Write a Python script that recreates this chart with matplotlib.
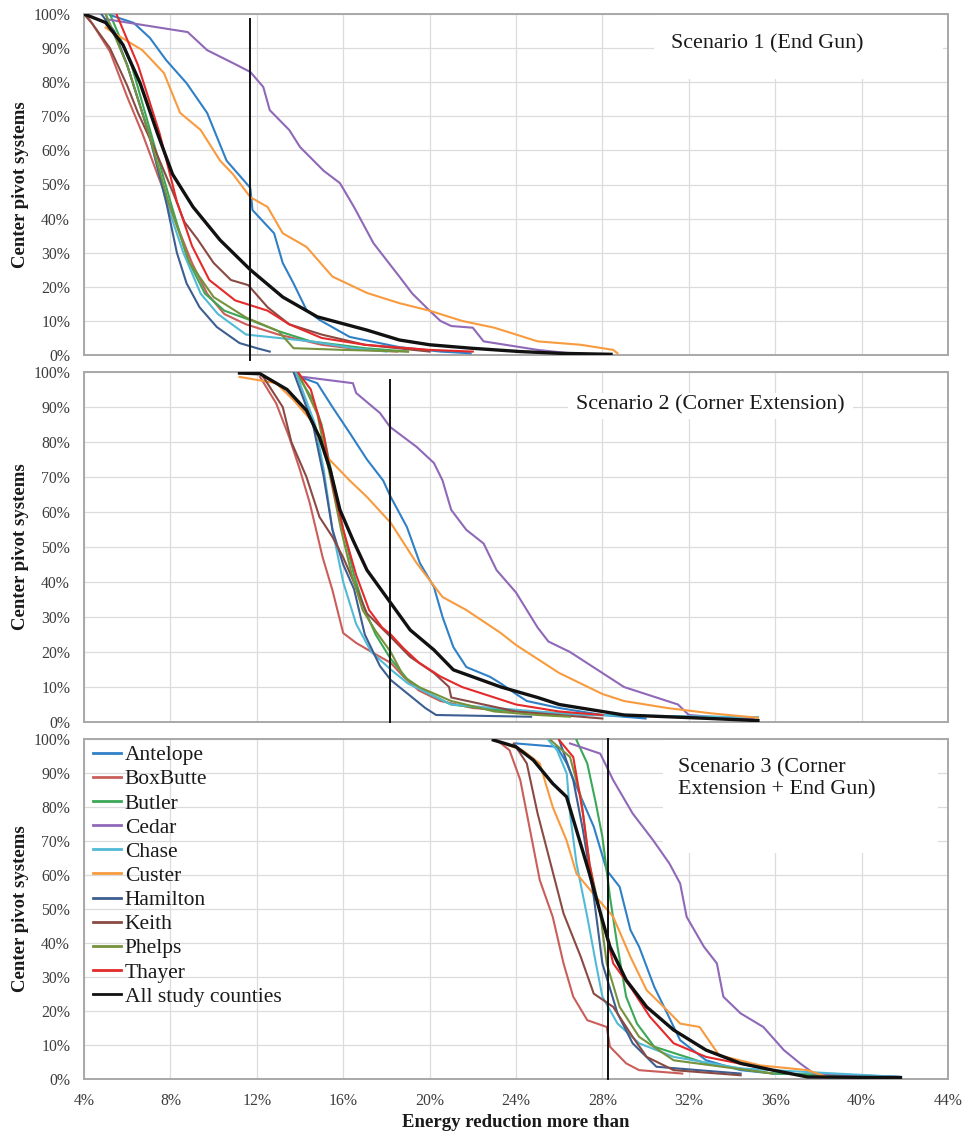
import matplotlib
matplotlib.use("Agg")
import matplotlib.pyplot as plt
from matplotlib.patches import Rectangle
from matplotlib.ticker import FixedLocator

# ---------------------------------------------------------------
# Exceedance curves: (energy reduction %, share of center pivots %)
# ---------------------------------------------------------------
counties = ["Antelope", "BoxButte", "Butler", "Cedar", "Chase", "Custer",
            "Hamilton", "Keith", "Phelps", "Thayer", "All study counties"]
colors = ["#2f80c6", "#c95e5a", "#3aa856", "#8f68b8", "#52bad6", "#f89b3f",
          "#3d5e90", "#8a4a43", "#77923c", "#e42a2a", "#111111"]

# Scenario 1 (End Gun)
s1_antelope = [(5.2, 99.7), (6.3, 97.4), (7.05, 93), (7.8, 86.5), (8.75, 79.7), (9.7, 71),
               (10.6, 57), (11.7, 49), (11.8, 42.5), (12.8, 35.7), (13.2, 27), (13.7, 21),
               (14.3, 13.2), (14.9, 10.3), (16.3, 5.3), (18.6, 2.3), (20.5, 1), (21.9, 0.5)]
s1_boxbutte = [(4.0, 100), (4.3, 98), (5.2, 89), (6.0, 75.7), (6.7, 65), (7.4, 53), (7.85, 45.5),
               (8.45, 35.7), (9.0, 27), (9.7, 18), (10.5, 12), (11.5, 9), (13, 6), (15, 3),
               (17, 1.5), (18.5, 1)]
s1_butler = [(5.2, 100), (6.2, 85), (7.1, 65), (8.0, 45), (8.8, 28), (9.6, 18), (10.5, 13),
             (11.8, 10), (13, 7), (14.5, 4), (17, 2), (19, 1)]
s1_cedar = [(5.0, 98.5), (8.8, 94.7), (9.7, 89.4), (10.9, 85.6), (11.7, 83), (12.3, 78.6),
            (12.6, 71.8), (13.5, 66), (14, 61), (15.1, 54), (15.85, 50.4), (16.5, 43.4),
            (17.4, 32.8), (18.6, 23), (19.2, 18), (20, 13), (20.5, 10), (21, 8.5), (22, 8),
            (22.5, 4), (23.5, 3), (25, 1.5), (26.5, 0.5)]
s1_chase = [(5.0, 100), (6.0, 85), (7.0, 65), (7.8, 45), (8.6, 30), (9.4, 18), (10.2, 12),
            (11.5, 6), (13, 5), (14.5, 4), (16.5, 2), (18, 1)]
s1_custer = [(5.0, 96), (5.5, 94), (6.7, 89.4), (7.7, 82.7), (8.45, 71), (9.4, 66), (10.3, 57),
             (10.9, 53), (11.7, 46.3), (12.5, 43.4), (13.2, 35.7), (14.3, 31.7), (15.5, 23),
             (17.1, 18.2), (18.6, 15.2), (20, 13), (21.5, 10), (23, 8), (24, 6), (25, 4),
             (27, 3), (28.5, 1.5), (28.7, 0.5)]
s1_hamilton = [(4.8, 100), (5.4, 95), (6.0, 85), (7.0, 65), (7.8, 45), (8.3, 30), (8.75, 21),
               (9.35, 14), (10.15, 8.2), (11.2, 3.5), (12.0, 2), (12.6, 1)]
s1_keith = [(4.0, 100), (4.4, 97), (5.2, 90), (6.0, 79), (6.5, 71), (7.3, 60), (8.1, 48),
            (8.65, 39), (9.25, 34), (10.0, 27), (10.8, 22), (11.6, 20.5), (12.5, 14),
            (13.5, 9), (15, 6), (17, 3), (20, 1)]
s1_phelps = [(5.0, 100), (6.0, 85), (7.0, 65), (7.9, 45), (8.9, 27), (10, 17), (11.5, 11),
             (13, 7), (13.7, 2), (16, 1.5), (19, 1)]
s1_thayer = [(5.5, 100), (6.5, 85), (7.5, 65), (8.3, 45), (9.0, 32), (9.8, 22), (11, 16),
             (12.5, 13), (13.5, 9), (15, 5), (17, 3), (20, 1.5), (22, 1)]
s1_all = [(4.0, 100), (5.0, 97.5), (5.8, 91), (6.6, 79.7), (7.4, 65), (8.1, 53), (9.05, 43.4),
          (10.3, 33.7), (11.7, 25), (13.2, 17), (14.8, 11.2), (17.1, 7.3), (18.6, 4.4),
          (20, 3), (21.9, 2), (24.2, 1), (26, 0.5), (28.4, 0.2)]

# Scenario 2 (Corner Extension)
s2_antelope = [(14, 98.6), (14.8, 96.8), (15.5, 90), (16.3, 82.6), (17.1, 75), (17.85, 69),
               (18.2, 64.3), (18.95, 55.7), (19.55, 45.4), (20.2, 38.6), (20.6, 30), (21.1, 21.4),
               (21.7, 15.7), (22.8, 12.9), (23.3, 11), (24, 8), (24.5, 6), (26, 4), (28, 2), (30, 1)]
s2_boxbutte = [(12.15, 98.6), (12.9, 91), (13.5, 81.4), (14, 72), (14.45, 62.6), (15.05, 47),
               (15.5, 37.7), (16, 25.4), (16.6, 22.6), (17.4, 19.7), (18.2, 16.9), (18.8, 12.9),
               (19.5, 9), (20.5, 6), (22, 4), (24, 3), (26, 2)]
s2_butler = [(13.8, 100), (14.6, 92), (15, 85), (15.5, 70), (16, 55), (16.5, 42), (17, 32),
             (17.5, 25), (18.2, 18), (19, 12), (20, 8), (21, 5), (23, 3.5), (26, 2.5), (28, 2)]
s2_cedar = [(14.15, 98.6), (16.45, 96.8), (16.6, 94), (17.7, 88.3), (18.17, 84.3), (19.4, 78.6),
            (20.2, 74), (20.6, 69), (21, 60.6), (21.7, 54.9), (22.5, 51), (23.1, 43.4), (24, 37),
            (24.5, 32), (25, 27), (25.5, 23), (26.5, 20), (27.5, 16), (28.5, 12), (29, 10),
            (30.5, 7), (31.5, 5), (32, 2), (33, 1.5), (35, 1)]
s2_chase = [(13.8, 100), (14.7, 85), (15.1, 72), (15.5, 55), (16, 40), (16.6, 28), (17.3, 20),
            (18.2, 15), (19, 11), (20, 8), (21, 5), (23, 4), (25, 3), (27, 2), (35.2, 1.4)]
s2_custer = [(11.2, 98.6), (12.9, 96.8), (13.7, 92), (14.5, 86.3), (15.25, 75.7), (16.3, 69),
             (17.1, 64.3), (18.2, 56.9), (19.4, 45.4), (20.6, 35.7), (21.7, 32), (23.3, 25.4),
             (24, 22), (25, 18), (26, 14), (27, 11), (28, 8), (29, 6), (31, 4), (33, 2.5),
             (35.2, 1.2)]
s2_hamilton = [(13.7, 100), (14.6, 85), (15.1, 70), (15.5, 55), (16, 45), (16.5, 38), (17, 25),
               (17.7, 16), (18.2, 12), (19, 8), (19.8, 4), (20.3, 2), (24.7, 1.5)]
s2_keith = [(12.3, 98.6), (13.2, 90), (13.6, 80), (14.3, 70), (14.9, 58.6), (15.5, 52.9),
            (16, 47), (16.45, 40.6), (17.1, 31), (18.2, 24.3), (19.1, 18.6), (20.2, 14),
            (20.9, 10), (21, 7), (22.5, 5), (24, 3), (26, 2), (28, 1)]
s2_phelps = [(13.9, 100), (14.8, 88), (15.4, 70), (15.9, 55), (16.4, 42), (16.9, 32), (17.5, 26),
             (18.2, 20), (18.8, 13), (19.5, 10), (21, 6), (23, 3), (25, 2), (26.5, 1.5)]
s2_thayer = [(13.9, 100), (14.5, 95), (15.1, 82), (15.5, 68), (16, 55), (16.6, 42), (17.2, 32),
             (17.8, 27), (18.2, 25), (18.8, 21), (19.5, 17), (20.5, 13), (21.5, 10), (22.5, 8),
             (24, 5), (26, 3), (28, 2)]
s2_all = [(11.2, 99.7), (12.15, 99.5), (13.4, 95), (14.3, 89), (14.9, 81.4), (15.4, 72),
          (15.85, 60.6), (16.45, 52), (17.1, 43.4), (18.2, 34), (19.1, 26.3), (20.2, 20.6),
          (21.1, 14.9), (22, 12.9), (23.3, 10), (25, 7), (26, 5), (27.5, 3.5), (29, 2),
          (31, 1.5), (33, 1), (35.2, 0.4)]

# Scenario 3 (Corner Extension + End Gun)
s3_antelope = [(24, 98.7), (25.9, 97.7), (26.35, 92.8), (27, 83), (27.6, 74.2), (28.2, 61.4),
               (28.8, 56.5), (29.3, 43.8), (29.7, 38.9), (30.4, 27.1), (31, 19.3), (31.6, 11.4),
               (32.8, 5.5), (34.4, 2.6), (35.9, 1.6), (41.8, 0.6)]
s3_boxbutte = [(23.1, 99.7), (23.7, 96.7), (24.2, 87.9), (24.65, 73.2), (25.1, 58.5),
               (25.7, 47.7), (26.2, 34), (26.65, 24.2), (27.3, 17.3), (28.2, 15.3), (28.35, 9.5),
               (29.1, 4.6), (29.7, 2.6), (31.7, 1.6)]
s3_butler = [(26.8, 99.7), (27.3, 92.8), (27.7, 81), (28, 71.2), (28.35, 53.6), (28.7, 38.9),
             (29.1, 24.2), (29.6, 16.3), (30.4, 9.5), (32.8, 4.6), (35.9, 1.6), (41.8, 0.6)]
s3_cedar = [(26.5, 98.7), (27.9, 95.7), (28.5, 87.9), (29.4, 78.1), (30.35, 70.2), (31.1, 63.4),
            (31.6, 57.5), (31.9, 47.7), (32.7, 38.9), (33.3, 34), (33.6, 24.2), (34.4, 19.3),
            (35.45, 15.3), (36.4, 8.5), (37.15, 4.6), (37.8, 1.6), (41.8, 0.6)]
s3_chase = [(25.5, 99.7), (25.9, 96.7), (26.35, 89.8), (26.5, 78.1), (26.8, 63.4), (27.3, 47.7),
            (27.7, 34), (28, 24.2), (28.7, 16.3), (29.7, 10.5), (31.3, 6.5), (34.4, 3.1),
            (41.8, 0.6)]
s3_custer = [(22.95, 99.7), (24.3, 96.7), (25.1, 92.8), (25.7, 80), (26.34, 70.2), (26.8, 60.4),
             (27.7, 53.6), (28.5, 47.7), (29.3, 35.9), (30.05, 26.1), (31, 20.2), (31.6, 16.3),
             (32.5, 15.3), (33.4, 7), (35.3, 4), (37.5, 2.6), (38.4, 0.6)]
s3_hamilton = [(26, 99.7), (26.65, 87.9), (27.1, 73.2), (27.6, 53.6), (28, 34), (28.7, 19.3),
               (29.4, 10.5), (30.5, 3.6), (34.4, 1.6)]
s3_keith = [(23.9, 98.7), (24.5, 92.8), (25, 78.1), (25.6, 63.4), (26.2, 48.7), (27, 35.9),
            (27.6, 25.1), (28.5, 21.2), (29.4, 12.4), (30.05, 6.5), (31.3, 2.6), (34.4, 1.1)]
s3_phelps = [(25.6, 99.7), (26.5, 94.7), (27, 83), (27.4, 63.4), (27.9, 48.7), (28.2, 34),
             (28.8, 21.2), (29.7, 12.4), (31.3, 5.5), (35.9, 1.6)]
s3_thayer = [(26, 99.7), (26.65, 94.7), (27.1, 78.1), (27.4, 63.4), (27.7, 53.6), (28.2, 41.8),
             (28.5, 34), (29.4, 26.1), (30.2, 18.3), (31.3, 10.5), (32.8, 6.5), (35.9, 2.6)]
s3_all = [(22.95, 99.7), (24, 97.7), (24.8, 93.8), (25.7, 86.9), (26.34, 83), (26.8, 73.2),
          (27.4, 60.4), (28, 46.7), (28.35, 38.9), (29.1, 29.1), (30.05, 21.2), (31.3, 14.4),
          (32.8, 8.5), (34.4, 4.6), (35.9, 2.6), (37.5, 0.6), (41.8, 0.4)]

# Mean energy reduction of all study counties per scenario (%)
mean_reduction = [11.7, 18.17, 28.26]

scenario_titles = ["Scenario 1 (End Gun)",
                   "Scenario 2 (Corner Extension)",
                   "Scenario 3 (Corner\nExtension + End Gun)"]

x_ticks = [4, 8, 12, 16, 20, 24, 28, 32, 36, 40, 44]
x_tick_labels = ["4%", "8%", "12%", "16%", "20%", "24%", "28%", "32%", "36%", "40%", "44%"]
y_ticks = [0, 10, 20, 30, 40, 50, 60, 70, 80, 90, 100]
y_tick_labels = ["0%", "10%", "20%", "30%", "40%", "50%", "60%", "70%", "80%", "90%", "100%"]

scenarios = [
    [s1_antelope, s1_boxbutte, s1_butler, s1_cedar, s1_chase, s1_custer,
     s1_hamilton, s1_keith, s1_phelps, s1_thayer, s1_all],
    [s2_antelope, s2_boxbutte, s2_butler, s2_cedar, s2_chase, s2_custer,
     s2_hamilton, s2_keith, s2_phelps, s2_thayer, s2_all],
    [s3_antelope, s3_boxbutte, s3_butler, s3_cedar, s3_chase, s3_custer,
     s3_hamilton, s3_keith, s3_phelps, s3_thayer, s3_all],
]

# ---------------------------------------------------------------
W, H = 971, 1135
plt.rcParams["font.family"] = ["Liberation Serif", "DejaVu Serif"]
fig = plt.figure(figsize=(W / 100, H / 100), dpi=100)
fig.patch.set_facecolor("white")


def axes_px(left, top, right, bottom):
    return fig.add_axes([left / W, 1 - bottom / H, (right - left) / W, (bottom - top) / H])


panel_px = [(84, 14, 948, 355), (84, 372, 948, 722), (84, 739, 948, 1079)]
# white boxes behind the scenario captions (axes fraction: x0, y0, w, h)
caption_boxes = [(0.660, 0.808, 0.334, 0.190),
                 (0.560, 0.865, 0.330, 0.075),
                 (0.670, 0.665, 0.318, 0.333)]
caption_pos = [(0.791, 0.912, "center"),
               (0.725, 0.905, "center"),
               (0.6875, 0.884, "left")]
mean_span = [(-0.015, 0.985), (0.0, 0.977), (0.0, 1.0)]

grid_col = "#dcdcdc"
spine_col = "#a8a8a8"
tick_col = "#3c3c3c"

for i, (series_list, px) in enumerate(zip(scenarios, panel_px)):
    ax = axes_px(*px)
    ax.set_xlim(4, 44)
    ax.set_ylim(0, 100)
    ax.xaxis.set_major_locator(FixedLocator(x_ticks))
    ax.yaxis.set_major_locator(FixedLocator(y_ticks))
    ax.set_yticklabels(y_tick_labels)
    if i == 2:
        ax.set_xticklabels(x_tick_labels)
    else:
        ax.set_xticklabels([])
    ax.tick_params(length=0, labelsize=11.3, labelcolor=tick_col, pad=10)
    ax.grid(True, color=grid_col, linewidth=0.9)
    ax.set_axisbelow(True)
    for sp in ax.spines.values():
        sp.set_color(spine_col)
        sp.set_linewidth(1.4)

    bx, by, bw, bh = caption_boxes[i]
    ax.add_patch(Rectangle((bx, by), bw, bh, transform=ax.transAxes,
                           facecolor="white", edgecolor="none", zorder=1))
    cx, cy, ha = caption_pos[i]
    ax.text(cx, cy, scenario_titles[i], transform=ax.transAxes, ha=ha, va="center",
            fontsize=15.8, color="#1a1a1a", linespacing=1.2, zorder=6)

    handles = []
    for name, col, pts in zip(counties, colors, series_list):
        xs = [p[0] for p in pts]
        ys = [p[1] for p in pts]
        is_all = name == "All study counties"
        ln, = ax.plot(xs, ys, color=col, linewidth=2.4 if is_all else 1.5,
                      zorder=4 if is_all else 3, label=name, solid_joinstyle="round")
        handles.append(ln)

    y0, y1 = mean_span[i]
    ax.axvline(mean_reduction[i], ymin=y0, ymax=y1, color="#111111", linewidth=1.4,
               zorder=5, clip_on=False)

    ax.set_ylabel("Center pivot systems", fontsize=13.5, fontweight="bold",
                  color="#1a1a1a", labelpad=3)

    if i == 2:
        ax.set_xlabel("Energy reduction more than", fontsize=13.5, fontweight="bold",
                      color="#1a1a1a", labelpad=4)
        leg = ax.legend(handles=handles, loc="upper left", bbox_to_anchor=(0.0105, 0.982),
                        frameon=False, fontsize=15.5, borderaxespad=0, borderpad=0,
                        labelspacing=0.19, handlelength=1.3, handletextpad=0.18)
        for t in leg.get_texts():
            t.set_color("#1a1a1a")
        for lh in leg.get_lines():
            lh.set_linewidth(2.0)

fig.savefig("out.png", dpi=100, facecolor="white")
